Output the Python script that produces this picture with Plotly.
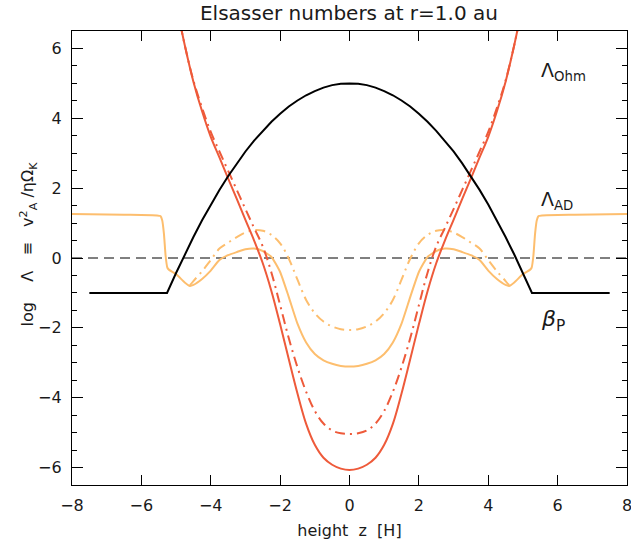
import plotly.graph_objects as go

# ---- data ----
z_red = [-5.0, -4.75, -4.5, -4.25, -4.0, -3.75, -3.5, -3.25, -3.0, -2.75, -2.5, -2.25, -2.0,
         -1.75, -1.5, -1.25, -1.0, -0.75, -0.5, -0.25, 0.0, 0.25, 0.5, 0.75, 1.0, 1.25, 1.5,
         1.75, 2.0, 2.25, 2.5, 2.75, 3.0, 3.25, 3.5, 3.75, 4.0, 4.25, 4.5, 4.75, 5.0]
lam_ohm = [7.3, 6.1, 5.05, 4.2, 3.47, 2.88, 2.28, 1.69, 1.09, 0.5, -0.15, -0.95, -1.9,
           -2.9, -3.88, -4.75, -5.35, -5.72, -5.92, -6.03, -6.07, -6.03, -5.92, -5.72, -5.35, -4.75, -3.88,
           -2.9, -1.9, -0.95, -0.15, 0.5, 1.09, 1.69, 2.28, 2.88, 3.47, 4.2, 5.05, 6.1, 7.3]
lam_ohm_dd = [7.3, 6.1, 5.08, 4.3, 3.61, 3.05, 2.5, 1.95, 1.4, 0.86, 0.33, -0.42, -1.35,
              -2.3, -3.13, -3.83, -4.38, -4.74, -4.94, -5.02, -5.04, -5.02, -4.94, -4.74, -4.38, -3.83, -3.13,
              -2.3, -1.35, -0.42, 0.33, 0.86, 1.4, 1.95, 2.5, 3.05, 3.61, 4.3, 5.08, 6.1, 7.3]

z_ad = [-8.0, -6.5, -5.55, -5.45, -5.4, -5.35, -5.3, -5.25, -5.2, -5.0, -4.75, -4.6, -4.5, -4.25,
        -4.0, -3.75, -3.5, -3.25, -3.0, -2.75, -2.5, -2.25, -2.0, -1.75, -1.5, -1.25, -1.0, -0.75,
        -0.5, -0.25, 0.0, 0.25, 0.5, 0.75, 1.0, 1.25, 1.5, 1.75, 2.0, 2.25, 2.5, 2.75, 3.0, 3.25,
        3.5, 3.75, 4.0, 4.25, 4.5, 4.6, 4.75, 5.0, 5.2, 5.25, 5.3, 5.35, 5.4, 5.45, 5.55, 6.5, 8.0]
lam_ad = [1.26, 1.24, 1.22, 1.2, 1.08, 0.7, 0.05, -0.28, -0.34, -0.46, -0.7, -0.8, -0.77, -0.6,
          -0.36, -0.06, 0.08, 0.17, 0.25, 0.27, 0.2, 0.03, -0.4, -1.12, -1.88, -2.42, -2.75, -2.93,
          -3.03, -3.09, -3.11, -3.09, -3.03, -2.93, -2.75, -2.42, -1.88, -1.12, -0.4, 0.03, 0.2, 0.27, 0.25, 0.17,
          0.08, -0.06, -0.36, -0.6, -0.77, -0.8, -0.7, -0.46, -0.34, -0.28, 0.05, 0.7, 1.08, 1.2, 1.22, 1.24, 1.26]

z_ad_dd = [-4.6, -4.5, -4.25, -4.0, -3.75, -3.5, -3.25, -3.0, -2.75, -2.5, -2.25, -2.0, -1.75,
           -1.5, -1.25, -1.0, -0.75, -0.5, -0.25, 0.0, 0.25, 0.5, 0.75, 1.0, 1.25, 1.5, 1.75, 2.0,
           2.25, 2.5, 2.75, 3.0, 3.25, 3.5, 3.75, 4.0, 4.25, 4.5, 4.6]
lam_ad_dd = [-0.78, -0.66, -0.38, -0.06, 0.27, 0.44, 0.6, 0.73, 0.8, 0.78, 0.66, 0.42, -0.02,
             -0.62, -1.2, -1.58, -1.82, -1.96, -2.04, -2.06, -2.04, -1.96, -1.82, -1.58, -1.2, -0.62, -0.02, 0.42,
             0.66, 0.78, 0.8, 0.73, 0.6, 0.44, 0.27, -0.06, -0.38, -0.66, -0.78]

z_beta = [-7.5, -5.26, -5.0, -4.75, -4.5, -4.25, -4.0, -3.75, -3.5, -3.25, -3.0, -2.75, -2.5, -2.25,
          -2.0, -1.75, -1.5, -1.25, -1.0, -0.75, -0.5, -0.25, 0.0, 0.25, 0.5, 0.75, 1.0, 1.25, 1.5,
          1.75, 2.0, 2.25, 2.5, 2.75, 3.0, 3.25, 3.5, 3.75, 4.0, 4.25, 4.5, 4.75, 5.0, 5.26, 7.5]
beta_p = [-1.0, -1.0, -0.43, 0.10, 0.60, 1.08, 1.53, 1.95, 2.34, 2.71, 3.05, 3.36, 3.64, 3.90,
          4.13, 4.34, 4.51, 4.66, 4.78, 4.88, 4.95, 4.99, 5.0, 4.99, 4.95, 4.88, 4.78, 4.66, 4.51,
          4.34, 4.13, 3.90, 3.64, 3.36, 3.05, 2.71, 2.34, 1.95, 1.53, 1.08, 0.60, 0.10, -0.43, -1.0, -1.0]

zero_level = 0.0

RED = "#EE5A3A"
ORANGE = "#FDBE6E"
FONT = "DejaVu Sans"
TXT = "#1a1a1a"
NB = "\u00a0"

fig = go.Figure()
fig.add_hline(y=zero_level, line=dict(color="black", width=1, dash="10px,6px"), layer="below")
fig.add_trace(go.Scatter(x=z_ad, y=lam_ad, mode="lines",
                         line=dict(color=ORANGE, width=2, shape="spline", smoothing=0.5)))
fig.add_trace(go.Scatter(x=z_ad_dd, y=lam_ad_dd, mode="lines",
                         line=dict(color=ORANGE, width=2, dash="10px,5px,2px,5px", shape="spline", smoothing=1.0)))
fig.add_trace(go.Scatter(x=z_red, y=lam_ohm, mode="lines",
                         line=dict(color=RED, width=2, shape="spline", smoothing=1.0)))
fig.add_trace(go.Scatter(x=z_red, y=lam_ohm_dd, mode="lines",
                         line=dict(color=RED, width=2, dash="10px,5px,2px,5px", shape="spline", smoothing=1.0)))
fig.add_trace(go.Scatter(x=z_beta, y=beta_p, mode="lines", line=dict(color="black", width=2)))

ann_font = dict(family=FONT, size=19, color=TXT)
fig.add_annotation(x=5.45, y=5.33, xref="x", yref="y", text="Λ<sub>Ohm</sub>", showarrow=False,
                   xanchor="left", yanchor="middle", font=ann_font)
fig.add_annotation(x=5.45, y=1.66, xref="x", yref="y", text="Λ<sub>AD</sub>", showarrow=False,
                   xanchor="left", yanchor="middle", font=ann_font)
fig.add_annotation(x=5.45, y=-1.8, xref="x", yref="y", text="<i>β</i><sub>P</sub>", showarrow=False,
                   xanchor="left", yanchor="middle", font=dict(family=FONT, size=22, color=TXT))

# y-axis title (rotated), placed as an annotation so it can sit where the reference has it
ytitle = "log" + NB * 4 + "Λ" + NB * 3 + "≡" + NB * 3 + "v<sup>2</sup><sub>A</sub>" + NB + "/ηΩ<sub>K</sub>"
fig.add_annotation(x=-0.079, y=0.53, xref="paper", yref="paper", text=ytitle, showarrow=False,
                   textangle=-90, xanchor="center", yanchor="middle",
                   font=dict(family=FONT, size=16, color=TXT))

axis_common = dict(showline=True, linecolor="black", linewidth=1.2, mirror="ticks", ticks="inside",
                   tickcolor="black", tickwidth=1.3, showgrid=False, zeroline=False, automargin=False,
                   ticklabeloverflow="allow",
                   tickfont=dict(family=FONT, size=16, color=TXT))

fig.update_xaxes(range=[-8, 8], dtick=2, tick0=0, ticklen=10, ticklabelstandoff=6,
                 title=dict(text="height  z  [H]", font=dict(family=FONT, size=16, color=TXT), standoff=10),
                 **axis_common)
fig.update_yaxes(range=[-6.5, 6.5], dtick=2, tick0=0, ticklen=11, ticklabelstandoff=6,
                 minor=dict(dtick=0.5, ticks="inside", ticklen=5, tickcolor="black", tickwidth=1.3),
                 **axis_common)

fig.update_layout(
    width=631, height=543,
    margin=dict(l=72, r=4, t=31, b=58),
    paper_bgcolor="white", plot_bgcolor="white",
    showlegend=False,
    title=dict(text="Elsasser numbers at r=1.0 au", x=0.553, xanchor="center", y=0.976, yanchor="middle",
               yref="container", font=dict(family=FONT, size=20, color=TXT)),
)

# remove the default 8px page margin so the figure fills the 631x543 window exactly
fig.write_html("out.html", config={"displayModeBar": False},
               post_script="document.body.style.margin='0';document.body.style.overflow='hidden';")
